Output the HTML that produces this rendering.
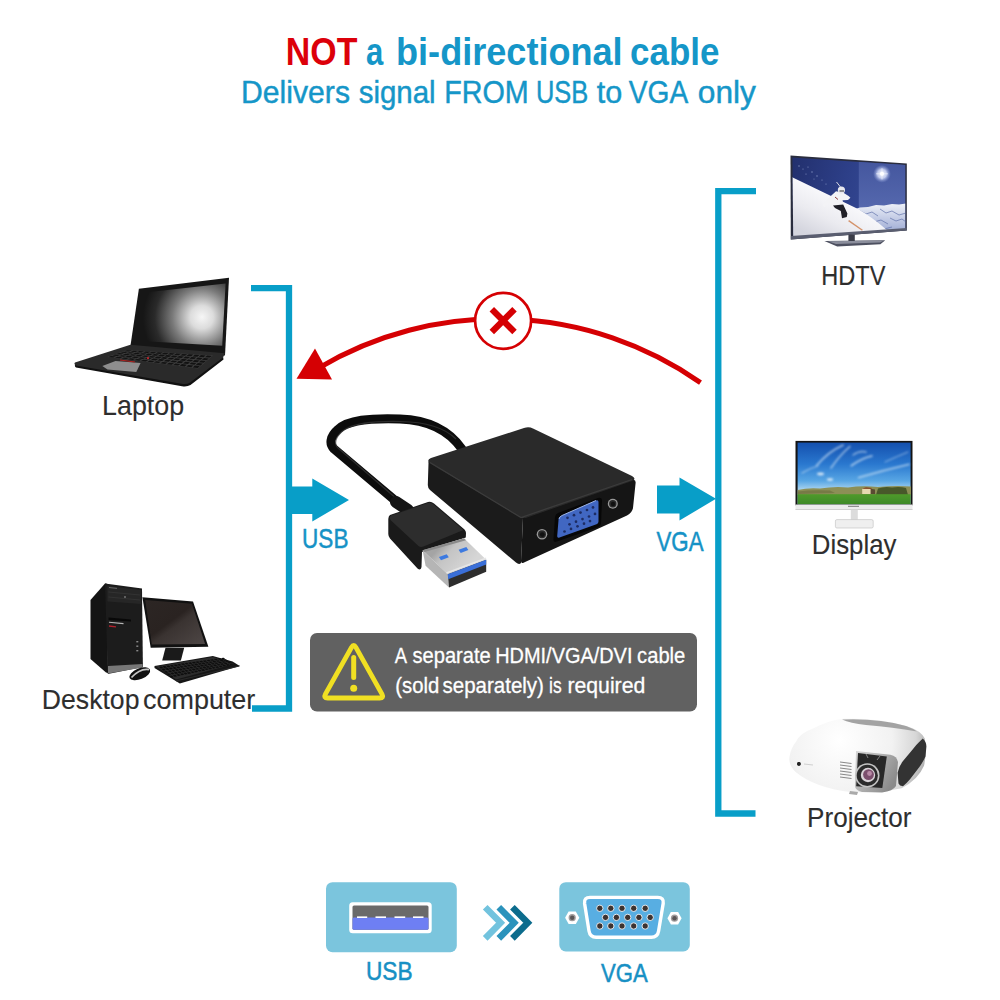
<!DOCTYPE html>
<html><head><meta charset="utf-8">
<style>
html,body{margin:0;padding:0;background:#fff;}
body{width:1000px;height:1000px;overflow:hidden;}
svg{display:block;}
text{font-family:"Liberation Sans",sans-serif;}
</style></head>
<body>
<svg width="1000" height="1000" viewBox="0 0 1000 1000">
<defs>
<filter id="soft" x="-20%" y="-50%" width="140%" height="200%"><feGaussianBlur stdDeviation="1"/></filter>
<radialGradient id="lapscr" gradientUnits="userSpaceOnUse" cx="201" cy="318" r="58" fx="202" fy="317">
<stop offset="0" stop-color="#f6f6f6"/><stop offset="0.2" stop-color="#dcdcdc"/><stop offset="0.5" stop-color="#7a7a7a"/><stop offset="0.8" stop-color="#2a2a2a"/><stop offset="1" stop-color="#161616"/>
</radialGradient>
<linearGradient id="dskscr" x1="0" y1="0" x2="1" y2="1">
<stop offset="0" stop-color="#2c2624"/><stop offset="0.45" stop-color="#2a2321"/><stop offset="0.55" stop-color="#3a3331"/><stop offset="1" stop-color="#4e4746"/>
</linearGradient>
<linearGradient id="tvsky" x1="0" y1="0" x2="1" y2="0.2">
<stop offset="0" stop-color="#222f6c"/><stop offset="0.5" stop-color="#2d3f88"/><stop offset="1" stop-color="#3a4f9c"/>
</linearGradient>
<linearGradient id="tvsky2" x1="0" y1="0" x2="0" y2="1">
<stop offset="0" stop-color="#42549c"/><stop offset="0.6" stop-color="#5467ad"/><stop offset="1" stop-color="#8090c6"/>
</linearGradient>
<linearGradient id="usbmetal" gradientUnits="userSpaceOnUse" x1="443" y1="544" x2="467" y2="567">
<stop offset="0" stop-color="#a4a4a4"/><stop offset="0.3" stop-color="#c4c4c4"/><stop offset="1" stop-color="#d6d6d6"/>
</linearGradient>
<linearGradient id="tvmtn" x1="0" y1="0" x2="0" y2="1">
<stop offset="0" stop-color="#eef1f8"/><stop offset="0.5" stop-color="#c5cde6"/><stop offset="1" stop-color="#9eabd3"/>
</linearGradient>
<linearGradient id="tvsnow" gradientUnits="userSpaceOnUse" x1="840" y1="200" x2="820" y2="240">
<stop offset="0" stop-color="#f8f8fb"/><stop offset="0.5" stop-color="#ebebf0"/><stop offset="1" stop-color="#d4d5de"/>
</linearGradient>
<radialGradient id="sun" cx="0.5" cy="0.5" r="0.5">
<stop offset="0" stop-color="#fff"/><stop offset="0.5" stop-color="#dfe6ff" stop-opacity="0.8"/><stop offset="1" stop-color="#8ea0dc" stop-opacity="0"/>
</radialGradient>
<linearGradient id="dspsky" x1="0" y1="0" x2="0" y2="1">
<stop offset="0" stop-color="#1450ae"/><stop offset="0.35" stop-color="#2a78cf"/><stop offset="0.62" stop-color="#58a6e4"/><stop offset="0.76" stop-color="#a6d2f0"/>
</linearGradient>
<linearGradient id="dspgrass" x1="0" y1="0" x2="0" y2="1">
<stop offset="0" stop-color="#4f9a2a"/><stop offset="0.5" stop-color="#46922a"/><stop offset="1" stop-color="#3d8a26"/>
</linearGradient>
<linearGradient id="projsilver" x1="0" y1="0" x2="1" y2="0.6">
<stop offset="0" stop-color="#d8d8d8"/><stop offset="0.6" stop-color="#a8a8a8"/><stop offset="1" stop-color="#8a8a8a"/>
</linearGradient>
<radialGradient id="projbody" gradientUnits="userSpaceOnUse" cx="840" cy="740" r="95">
<stop offset="0" stop-color="#ffffff"/><stop offset="0.55" stop-color="#f2f2f2"/><stop offset="0.8" stop-color="#d7d7d7"/><stop offset="1" stop-color="#9a9a9a"/>
</radialGradient>
</defs>
<rect width="1000" height="1000" fill="#fff"/>

<!-- BRACKETS -->
<path d="M251 288.2 H289 V708.5 H252" fill="none" stroke="#089ec8" stroke-width="6.3"/>
<path d="M756 191.2 H718.3 V813.5 H755.5" fill="none" stroke="#089ec8" stroke-width="6.3"/>

<!-- blue arrows -->
<path d="M289 486.5 H312.3 V478.5 L349 500 L312.3 521.5 V514 H289Z" fill="#089ec8"/>
<path d="M657 485.5 H679.5 V477.5 L716 498.8 L679.5 520.5 V513.5 H657Z" fill="#089ec8"/>

<!-- red arc -->
<g id="redarc">
<path d="M700.5 382.6 A352.7 352.7 0 0 0 318 368.3" fill="none" stroke="#d50003" stroke-width="5"/>
<path d="M315 348.5 L332 379.5 L296.5 378.8Z" fill="#d50003"/>
<circle cx="503.1" cy="320.8" r="28" fill="#fff" stroke="#d50003" stroke-width="2.7"/>
<path d="M491.8 309.3 L514.5 332 M514.5 309.3 L491.8 332" stroke="#d50003" stroke-width="6.3"/>
</g>

<!-- ADAPTER -->
<g id="adapter">
<!-- cable -->
<path d="M462 449 C450 432, 430 420, 400 419 C370 418, 348 420, 338 429.5 C330 436.5, 329 444, 334 449 L404 508" fill="none" stroke="#0c0c0c" stroke-width="9" stroke-linecap="round"/>
<path d="M456 439 C446 429, 428 422, 400 421.5 C372 421, 352 423, 342 431.5 C335 438, 334 444, 338 448 L398 500" fill="none" stroke="#3a3a3a" stroke-width="1.2" opacity="0.7"/>
<!-- strain relief -->
<path d="M396 502 L408 510" stroke="#141414" stroke-width="12" stroke-linecap="round"/>
<!-- box: left face -->
<path d="M428.5 463 Q428 460.5 431 461.5 L523 518 L521 563 Q519 565 516 562.5 L430 490 Q427.8 488 427.8 485Z" fill="#1b1b1b"/>
<!-- box: front face -->
<path d="M523 518 L632 480 Q636 479 635.6 483 L633 508 Q632 513 627 515.5 L524 562.5 Q521 564 521 561Z" fill="#151515"/>
<!-- box: top face -->
<path d="M431 458 L524 428 Q529 426.5 533 428.5 L632 476 Q637 479 632 481 L527 517.5 Q523 519 519 516.5 L430 463.5 Q426 460 431 458Z" fill="#2a2a2a"/>
<path d="M430 462.5 L521 517.5 L632 479.5" fill="none" stroke="#3c3c3c" stroke-width="1.3"/>
<!-- VGA port -->
<path d="M558 513 L598 498 Q602 497 602 501 L601 523 Q601 526 597 527.5 L557 541.5 Q553 543 553.5 539 L555 517 Q555.5 514 558 513Z" fill="#070707"/>
<path d="M562 515.5 L596 500.5 Q598.5 499.8 598.5 502 L598.5 521.5 Q598.5 523.5 596.5 524.3 L559.5 537.6 Q557 538.4 557.2 536 L558.6 519 Q559 516.8 562 515.5Z" fill="#4167c2"/>
<path d="M559 519 Q559.3 516.8 562 515.5 L596 500.5" fill="none" stroke="#9fb6e6" stroke-width="1"/>
<g fill="#1d2c63">
<circle cx="567.5" cy="517.8" r="1.35"/><circle cx="574" cy="515.2" r="1.35"/><circle cx="580.5" cy="512.6" r="1.35"/><circle cx="587" cy="510" r="1.35"/><circle cx="593" cy="507.4" r="1.35"/>
<circle cx="569.5" cy="524.3" r="1.35"/><circle cx="576" cy="521.7" r="1.35"/><circle cx="582.5" cy="519.1" r="1.35"/><circle cx="589" cy="516.5" r="1.35"/><circle cx="595" cy="513.9" r="1.35"/>
<circle cx="564.5" cy="531.5" r="1.35"/><circle cx="571" cy="528.9" r="1.35"/><circle cx="577.5" cy="526.3" r="1.35"/><circle cx="584" cy="523.7" r="1.35"/><circle cx="590" cy="521.1" r="1.35"/>
</g>
<!-- screws -->
<circle cx="542" cy="534.3" r="5.3" fill="#9a9a9a"/><circle cx="542" cy="534.3" r="4" fill="#2a2a2a"/><circle cx="542.3" cy="534.6" r="2.4" fill="#111"/>
<circle cx="612.8" cy="503.8" r="5" fill="#9a9a9a"/><circle cx="612.8" cy="503.8" r="3.7" fill="#2a2a2a"/><circle cx="613" cy="504" r="2.2" fill="#111"/>
<!-- USB plug housing -->
<path d="M390 515 L428 502 Q431 501 434 503.5 L464.5 529.5 Q466 531 466 533 L465.8 537.5 L422 552 L421.5 567 Q421 571 417.5 568.5 L390 538.5 Q388.3 536.5 388.3 534 L388.3 519 Q388.5 516 390 515Z" fill="#1a1a1a"/>
<path d="M391 515.5 L428 503 Q431 502 433.5 504.5 L463.5 530 L423.5 546.5 Q420.5 547.7 418.5 546 L390.5 520 Q389 517 391 515.5Z" fill="#2d2d2d"/>
<!-- USB metal -->
<path d="M422.6 550.2 L464 538.2 L486.2 559.8 L447.8 574.2Z" fill="url(#usbmetal)"/>
<path d="M422.6 550.2 L464 538.2 L466 540.2 L424.4 552Z" fill="#8a8a8a"/>
<path d="M422.6 550.2 L447.8 574.2 L449 587.4 L425.6 565.8Z" fill="#b5b5b5"/>
<path d="M447.8 574.2 L486.2 559.8 L486.2 571.8 L449 587.4Z" fill="#2d2d2d"/>
<path d="M447.8 574.2 L486.2 559.8 L486.2 564.6 L448.2 579.2Z" fill="#3a6fd8"/>
<path d="M446.5 573 L486 558.2" stroke="#e6e6e6" stroke-width="1.6"/>
<path d="M438.9 557 L446.7 554.2 L448.8 557.3 L441 560.2Z" fill="#3d7ae0"/>
<path d="M458.6 549.8 L466.3 547 L468.4 550.1 L460.7 553Z" fill="#3d7ae0"/>
</g>

<!-- LAPTOP -->
<g id="laptop">
<path d="M138.9 288.7 L229 277.7 L225 355.5 L130.2 347.5Z" fill="#161616"/>
<path d="M140.6 293 L225.6 283.6 L222.2 345.7 L132.9 340.6Z" fill="url(#lapscr)"/>
<path d="M75.5 364 L183 383 Q187 383.5 190 381.5 L223 356.5 L223.5 359.5 L190.5 385 Q187 387 182 386.2 L76 367.5 Q74 366 75.5 364Z" fill="#111"/>
<path d="M75 362.5 L130.4 344.8 L225 353.3 L223 357.5 L190 382.5 Q187 384.5 183 384 L76 365.5 Q73.5 364.2 75 362.5Z" fill="#2a2a2a"/>
<path d="M127 350 L213.0 355.5 L198.0 368.5 L107 357Z" fill="#3c3c3c"/>
<path d="M127.1 350.3 L131.8 350.6 L129.1 351.6 L124.4 351.2Z M133.3 350.7 L137.9 351.0 L135.3 352.1 L130.6 351.7Z M139.4 351.1 L144.1 351.4 L141.5 352.5 L136.8 352.2Z M145.6 351.5 L150.3 351.8 L147.7 353.0 L143.0 352.6Z M151.7 351.9 L156.4 352.2 L153.9 353.5 L149.2 353.1Z M157.9 352.3 L162.6 352.6 L160.1 353.9 L155.4 353.6Z M164.0 352.7 L168.7 353.0 L166.3 354.4 L161.6 354.0Z M170.2 353.1 L174.9 353.4 L172.5 354.8 L167.8 354.5Z M176.3 353.5 L181.0 353.8 L178.7 355.3 L174.0 355.0Z M182.5 353.9 L187.2 354.2 L184.9 355.8 L180.2 355.4Z M188.7 354.3 L193.3 354.6 L191.1 356.2 L186.4 355.9Z M194.8 354.7 L199.5 355.0 L197.3 356.7 L192.6 356.4Z M201.0 355.1 L205.6 355.5 L203.5 357.2 L198.8 356.8Z M207.1 355.5 L211.8 355.9 L209.7 357.6 L205.0 357.3Z M123.1 351.7 L127.9 352.1 L125.1 353.1 L120.4 352.6Z M129.3 352.2 L134.1 352.5 L131.4 353.6 L126.7 353.2Z M135.6 352.7 L140.3 353.0 L137.7 354.2 L132.9 353.7Z M141.8 353.2 L146.5 353.5 L144.0 354.7 L139.2 354.3Z M148.0 353.6 L152.8 354.0 L150.2 355.3 L145.5 354.9Z M154.3 354.1 L159.0 354.5 L156.5 355.8 L151.7 355.4Z M160.5 354.6 L165.2 355.0 L162.8 356.4 L158.0 356.0Z M166.7 355.1 L171.4 355.5 L169.1 356.9 L164.3 356.5Z M172.9 355.6 L177.7 356.0 L175.3 357.5 L170.6 357.1Z M179.2 356.1 L183.9 356.5 L181.6 358.0 L176.8 357.6Z M185.4 356.6 L190.1 357.0 L187.9 358.6 L183.1 358.2Z M191.6 357.1 L196.3 357.5 L194.2 359.1 L189.4 358.7Z M197.8 357.6 L202.6 358.0 L200.4 359.7 L195.7 359.3Z M204.1 358.1 L208.8 358.4 L206.7 360.2 L201.9 359.8Z M119.1 353.1 L123.9 353.5 L121.2 354.5 L116.4 354.1Z M125.4 353.7 L130.2 354.1 L127.6 355.2 L122.7 354.7Z M131.7 354.2 L136.5 354.7 L133.9 355.8 L129.1 355.3Z M138.0 354.8 L142.8 355.3 L140.2 356.5 L135.4 356.0Z M144.3 355.4 L149.1 355.8 L146.6 357.1 L141.8 356.6Z M150.6 356.0 L155.4 356.4 L152.9 357.7 L148.1 357.2Z M156.9 356.6 L161.7 357.0 L159.3 358.4 L154.5 357.9Z M163.2 357.1 L168.0 357.6 L165.6 359.0 L160.8 358.5Z M169.5 357.7 L174.3 358.1 L172.0 359.6 L167.2 359.2Z M175.8 358.3 L180.6 358.7 L178.3 360.3 L173.5 359.8Z M182.1 358.9 L186.9 359.3 L184.7 360.9 L179.8 360.4Z M188.4 359.4 L193.2 359.9 L191.0 361.5 L186.2 361.1Z M194.7 360.0 L199.5 360.5 L197.4 362.2 L192.5 361.7Z M201.0 360.6 L205.8 361.0 L203.7 362.8 L198.9 362.3Z M115.1 354.5 L120.0 355.0 L117.3 356.0 L112.4 355.5Z M121.5 355.2 L126.3 355.7 L123.7 356.7 L118.8 356.2Z M127.9 355.8 L132.7 356.3 L130.1 357.5 L125.2 356.9Z M134.2 356.5 L139.1 357.0 L136.5 358.2 L131.6 357.6Z M140.6 357.2 L145.5 357.7 L142.9 358.9 L138.1 358.4Z M147.0 357.8 L151.8 358.3 L149.4 359.6 L144.5 359.1Z M153.3 358.5 L158.2 359.0 L155.8 360.4 L150.9 359.8Z M159.7 359.1 L164.6 359.6 L162.2 361.1 L157.3 360.5Z M166.1 359.8 L170.9 360.3 L168.6 361.8 L163.7 361.2Z M172.5 360.5 L177.3 361.0 L175.0 362.5 L170.2 362.0Z M178.8 361.1 L183.7 361.6 L181.4 363.2 L176.6 362.7Z M185.2 361.8 L190.0 362.3 L187.9 364.0 L183.0 363.4Z M191.6 362.5 L196.4 363.0 L194.3 364.7 L189.4 364.1Z M197.9 363.1 L202.8 363.6 L200.7 365.4 L195.8 364.9Z M111.1 355.9 L116.0 356.5 L113.3 357.5 L108.4 356.9Z M117.6 356.7 L122.5 357.2 L119.8 358.3 L114.9 357.7Z M124.0 357.4 L128.9 358.0 L126.3 359.1 L121.4 358.5Z M130.5 358.2 L135.4 358.7 L132.8 359.9 L127.9 359.3Z M136.9 358.9 L141.8 359.5 L139.3 360.7 L134.4 360.1Z M143.3 359.7 L148.2 360.2 L145.8 361.5 L140.8 360.9Z M149.8 360.4 L154.7 361.0 L152.3 362.3 L147.3 361.7Z M156.2 361.2 L161.1 361.7 L158.8 363.1 L153.8 362.5Z M162.7 361.9 L167.6 362.5 L165.2 364.0 L160.3 363.3Z M169.1 362.7 L174.0 363.2 L171.7 364.8 L166.8 364.2Z M175.5 363.4 L180.4 364.0 L178.2 365.6 L173.3 365.0Z M182.0 364.1 L186.9 364.7 L184.7 366.4 L179.8 365.8Z M188.4 364.9 L193.3 365.5 L191.2 367.2 L186.3 366.6Z M194.9 365.6 L199.8 366.2 L197.7 368.0 L192.8 367.4Z" fill="#121212"/>
<path d="M102.3 366 L115.5 361 L140.6 363 L136.3 372 L107.5 369.5Z" fill="#8e8e8e"/>
<path d="M120 360 L135 362" stroke="#b0221f" stroke-width="1.2"/>
<circle cx="148" cy="358.2" r="1.1" fill="#c0272d"/>
</g>

<!-- DESKTOP -->
<g id="desktop">
<path d="M90.5 600 L105 583.5 L107 583.7 L108 673 L106 672.6 L90.5 659Z" fill="#141414"/>
<path d="M105 583.5 L142 588.5 L142.9 667 L107.8 674Z" fill="#1c1c1c"/>
<path d="M107.5 586 L141 590 L141 604 L107.5 601.5Z" fill="#262626"/>
<g stroke="#3a3a3a" stroke-width="0.6"><path d="M108.5 592 L140 595"/><path d="M108.5 597 L140 600"/></g>
<path d="M109 587.5 L117 588.4" stroke="#777" stroke-width="0.8"/>
<circle cx="125" cy="597" r="0.8" fill="#aaa"/>
<path d="M108.5 617.5 L131 619.5 L131 621.5 L108.5 620Z" fill="#080808"/>
<path d="M109 622.3 L123.5 623.6" stroke="#b5b5b5" stroke-width="1.1"/>
<path d="M109 626 L116 626.8" stroke="#b0202c" stroke-width="1.3"/>
<g fill="#8a8a8a"><rect x="136.3" y="641" width="2" height="1.4"/><rect x="136.3" y="645.5" width="2" height="1.4"/><rect x="136.3" y="650" width="2" height="1.4"/></g>
<path d="M108 666 L142.5 664 L142.6 667.5 L108 673.5Z" fill="#777"/>
<path d="M142.4 597.2 L193 601.6 L208.4 646.7 L150.7 647.8Z" fill="#111"/>
<path d="M145.2 600 L191.9 603.8 L205.1 643.9 L151.8 644.5Z" fill="url(#dskscr)"/>
<path d="M165.5 647.8 L184.2 647.8 L180.9 660.4 L162.2 660.4Z" fill="#1a1a1a"/>
<path d="M154.5 665.9 L212.8 656 L232.6 661.5 L239.8 665.9 L179.8 683.5 L154.5 668.1Z" fill="#161616"/>
<path d="M156 666.5 L213 657 L234 664 L176 679.5Z" fill="#2c2c2c"/>
<path d="M158.9 666.8 L161.5 666.4 L163.4 668.0 L160.7 668.4Z M162.5 666.2 L165.2 665.9 L167.0 667.5 L164.4 667.9Z M166.2 665.7 L168.8 665.4 L170.6 666.9 L168.0 667.3Z M169.9 665.2 L172.5 664.9 L174.3 666.4 L171.7 666.8Z M173.5 664.7 L176.2 664.4 L177.9 665.8 L175.3 666.2Z M177.2 664.2 L179.8 663.9 L181.6 665.3 L178.9 665.7Z M180.8 663.7 L183.5 663.3 L185.2 664.8 L182.6 665.1Z M184.5 663.2 L187.1 662.8 L188.8 664.2 L186.2 664.6Z M188.2 662.7 L190.8 662.3 L192.5 663.7 L189.8 664.1Z M191.8 662.2 L194.5 661.8 L196.1 663.1 L193.5 663.5Z M195.5 661.7 L198.1 661.3 L199.7 662.6 L197.1 663.0Z M199.2 661.2 L201.8 660.8 L203.4 662.0 L200.8 662.4Z M202.8 660.7 L205.5 660.3 L207.0 661.5 L204.4 661.9Z M206.5 660.2 L209.1 659.8 L210.7 661.0 L208.0 661.3Z M210.1 659.7 L212.8 659.3 L214.3 660.4 L211.7 660.8Z M213.8 659.1 L216.4 658.8 L217.9 659.9 L215.3 660.3Z M217.5 658.6 L220.1 658.3 L221.6 659.3 L219.0 659.7Z M221.1 658.1 L223.8 657.8 L225.2 658.8 L222.6 659.2Z M161.5 669.0 L164.1 668.6 L165.9 670.3 L163.3 670.7Z M165.1 668.5 L167.7 668.1 L169.5 669.7 L166.9 670.1Z M168.7 667.9 L171.3 667.5 L173.1 669.1 L170.5 669.5Z M172.4 667.4 L175.0 667.0 L176.8 668.5 L174.2 668.9Z M176.0 666.8 L178.6 666.4 L180.4 667.9 L177.8 668.3Z M179.6 666.3 L182.2 665.9 L184.0 667.3 L181.4 667.7Z M183.2 665.7 L185.9 665.3 L187.6 666.7 L185.0 667.1Z M186.9 665.1 L189.5 664.7 L191.2 666.1 L188.6 666.5Z M190.5 664.6 L193.1 664.2 L194.8 665.5 L192.2 666.0Z M194.1 664.0 L196.7 663.6 L198.4 664.9 L195.8 665.4Z M197.8 663.5 L200.4 663.1 L202.0 664.3 L199.4 664.8Z M201.4 662.9 L204.0 662.5 L205.6 663.7 L203.0 664.2Z M205.0 662.4 L207.6 662.0 L209.2 663.2 L206.6 663.6Z M208.6 661.8 L211.3 661.4 L212.8 662.6 L210.2 663.0Z M212.3 661.2 L214.9 660.8 L216.4 662.0 L213.8 662.4Z M215.9 660.7 L218.5 660.3 L220.0 661.4 L217.4 661.8Z M219.5 660.1 L222.1 659.7 L223.6 660.8 L221.0 661.2Z M223.2 659.6 L225.8 659.2 L227.2 660.2 L224.6 660.6Z M164.1 671.3 L166.7 670.9 L168.5 672.5 L165.9 673.0Z M167.7 670.7 L170.3 670.3 L172.1 671.9 L169.5 672.3Z M171.3 670.1 L173.8 669.7 L175.7 671.2 L173.1 671.7Z M174.9 669.5 L177.4 669.1 L179.2 670.6 L176.6 671.1Z M178.4 668.9 L181.0 668.5 L182.8 670.0 L180.2 670.4Z M182.0 668.3 L184.6 667.9 L186.4 669.3 L183.8 669.8Z M185.6 667.7 L188.2 667.3 L189.9 668.7 L187.4 669.1Z M189.2 667.1 L191.8 666.7 L193.5 668.0 L190.9 668.5Z M192.8 666.5 L195.4 666.0 L197.1 667.4 L194.5 667.8Z M196.4 665.9 L199.0 665.4 L200.6 666.7 L198.1 667.2Z M200.0 665.3 L202.6 664.8 L204.2 666.1 L201.6 666.6Z M203.6 664.7 L206.2 664.2 L207.8 665.5 L205.2 665.9Z M207.2 664.1 L209.8 663.6 L211.4 664.8 L208.8 665.3Z M210.8 663.4 L213.4 663.0 L214.9 664.2 L212.4 664.6Z M214.4 662.8 L217.0 662.4 L218.5 663.5 L215.9 664.0Z M218.0 662.2 L220.6 661.8 L222.1 662.9 L219.5 663.3Z M221.6 661.6 L224.2 661.2 L225.6 662.2 L223.1 662.7Z M225.2 661.0 L227.8 660.6 L229.2 661.6 L226.6 662.1Z M166.7 673.6 L169.2 673.2 L171.1 674.8 L168.5 675.3Z M170.2 673.0 L172.8 672.5 L174.6 674.1 L172.1 674.6Z M173.8 672.3 L176.4 671.8 L178.2 673.4 L175.6 673.9Z M177.3 671.7 L179.9 671.2 L181.7 672.7 L179.1 673.2Z M180.9 671.0 L183.5 670.5 L185.2 672.0 L182.7 672.5Z M184.5 670.3 L187.0 669.9 L188.8 671.3 L186.2 671.8Z M188.0 669.7 L190.6 669.2 L192.3 670.6 L189.8 671.1Z M191.6 669.0 L194.2 668.6 L195.8 669.9 L193.3 670.4Z M195.2 668.4 L197.7 667.9 L199.4 669.2 L196.8 669.7Z M198.7 667.7 L201.3 667.2 L202.9 668.5 L200.4 669.0Z M202.3 667.1 L204.8 666.6 L206.5 667.9 L203.9 668.4Z M205.8 666.4 L208.4 665.9 L210.0 667.2 L207.4 667.7Z M209.4 665.7 L212.0 665.3 L213.5 666.5 L211.0 667.0Z M213.0 665.1 L215.5 664.6 L217.1 665.8 L214.5 666.3Z M216.5 664.4 L219.1 664.0 L220.6 665.1 L218.1 665.6Z M220.1 663.8 L222.7 663.3 L224.1 664.4 L221.6 664.9Z M223.7 663.1 L226.2 662.6 L227.7 663.7 L225.1 664.2Z M227.2 662.5 L229.8 662.0 L231.2 663.0 L228.7 663.5Z M169.3 675.9 L171.8 675.4 L173.7 677.0 L171.1 677.6Z M172.8 675.2 L175.3 674.7 L177.2 676.3 L174.6 676.8Z M176.3 674.5 L178.9 674.0 L180.7 675.6 L178.1 676.1Z M179.8 673.8 L182.4 673.3 L184.2 674.8 L181.6 675.3Z M183.4 673.1 L185.9 672.6 L187.7 674.1 L185.1 674.6Z M186.9 672.4 L189.4 671.9 L191.2 673.3 L188.6 673.9Z M190.4 671.7 L193.0 671.2 L194.7 672.6 L192.2 673.1Z M194.0 671.0 L196.5 670.5 L198.2 671.8 L195.7 672.4Z M197.5 670.3 L200.0 669.8 L201.7 671.1 L199.2 671.6Z M201.0 669.6 L203.6 669.1 L205.2 670.4 L202.7 670.9Z M204.5 668.9 L207.1 668.3 L208.7 669.6 L206.2 670.1Z M208.1 668.1 L210.6 667.6 L212.2 668.9 L209.7 669.4Z M211.6 667.4 L214.1 666.9 L215.7 668.1 L213.2 668.7Z M215.1 666.7 L217.7 666.2 L219.2 667.4 L216.7 667.9Z M218.7 666.0 L221.2 665.5 L222.7 666.6 L220.2 667.2Z M222.2 665.3 L224.7 664.8 L226.2 665.9 L223.7 666.4Z M225.7 664.6 L228.3 664.1 L229.7 665.2 L227.2 665.7Z M229.2 663.9 L231.8 663.4 L233.2 664.4 L230.7 664.9Z" fill="#0d0d0d"/>
<path d="M176 681 L239.5 666" stroke="#2a2a2a" stroke-width="1"/>
<ellipse cx="139.8" cy="673.8" rx="11" ry="5.4" transform="rotate(-22 139.8 673.8)" fill="#111"/>
<path d="M131.5 677.5 Q140 668 149 669.5" stroke="#c4c4c4" stroke-width="1.8" fill="none"/>
</g>

<!-- HDTV -->
<g id="hdtv">
<clipPath id="tvclip"><path d="M792.4 157.5 L905.2 165 L905.2 229 L793.2 237Z"/></clipPath>
<path d="M790.5 155.4 L906.8 163.4 L906.8 230.6 L790.8 239.4Z" fill="#2a2d3e"/>
<g clip-path="url(#tvclip)">
<rect x="790" y="155" width="120" height="85" fill="url(#tvsky)"/>
<rect x="858.8" y="155" width="50" height="85" fill="url(#tvsky2)"/>
<circle cx="882" cy="173.8" r="9" fill="url(#sun)"/>
<path d="M876 173.8 H888 M882 168 V179.5" stroke="#fff" stroke-width="0.6" opacity="0.8"/>
<circle cx="882" cy="173.8" r="2" fill="#fff"/>
<path d="M852 210 L860 207.5 L868 207 L876 205 L884 205.5 L892 204 L899 204.5 L906 203.5 L906 232 L852 232Z" fill="url(#tvmtn)"/>
<g stroke="#5e6fa8" stroke-width="0.9" fill="none" opacity="0.75">
<path d="M860 211 L866 214 L872 212 L878 216"/><path d="M880 209 L886 213 L892 211 L899 215 L906 213"/>
<path d="M868 219 L874 222 L881 220 L888 224"/><path d="M890 218 L896 221 L902 219 L906 222"/>
<path d="M878 227 L884 229 L892 227"/>
</g>
<path d="M790 176 L792.2 177.2 L857 208.6 Q872 217 888 231 L888 240 L790 240Z" fill="url(#tvsnow)"/>
<g fill="#aab6e0" opacity="0.7"><circle cx="799" cy="166" r="0.7"/><circle cx="803" cy="169" r="0.6"/><circle cx="808" cy="167" r="0.6"/><circle cx="812" cy="172" r="0.7"/><circle cx="806" cy="174" r="0.6"/><circle cx="817" cy="176" r="0.7"/><circle cx="822" cy="180" r="0.6"/><circle cx="814" cy="179" r="0.5"/><circle cx="826" cy="184" r="0.6"/></g>
<path d="M848.6 220.6 L862.4 230.2" stroke="#d4926a" stroke-width="1.4"/>
<path d="M836 191.2 L843.8 193 L848.6 196 L850.4 197.8 L848 200 L842.6 200.2 L843.2 205 L833 205.4 L827 203.8 L824.6 207.4 L823 205 L826.5 200 Z" fill="#f3f3f6"/>
<path d="M833 205.6 L843.2 204.4 L847.4 213.4 L846.8 217 L842 218.2 L840.8 211 L835 208 Z" fill="#202028"/>
<circle cx="841.4" cy="190" r="3.6" fill="#e8e8ee"/>
<path d="M839.5 191 h4.5" stroke="#333" stroke-width="1.1"/>
<path d="M836.5 182 L840.5 187" stroke="#d8d8e0" stroke-width="1"/>
<path d="M835 197 L838 199.5" stroke="#8a3a3a" stroke-width="1"/>
</g>
<path d="M790.8 236 L906.8 228 L906.8 230.6 L790.8 239.4Z" fill="#5a5e70"/>
<path d="M824.4 241 L885.2 240.2 L880.4 244.2 L837.2 246.6Z" fill="#4d5060"/>
<path d="M828 241.3 L884 240.5 L880 242.5 L836 244Z" fill="#8b8e9c"/>
<path d="M848.4 234.6 L854.8 234.6 L854.8 241 L848.4 241Z" fill="#3a3c48"/>
</g>

<!-- DISPLAY -->
<g id="display">
<rect x="795.5" y="440.9" width="117" height="64.5" fill="#141414"/>
<rect x="797.6" y="442.6" width="113" height="61.6" fill="url(#dspsky)"/>
<g fill="none" stroke="#dcebf8" stroke-linecap="round" filter="url(#soft)" opacity="0.6">
<path d="M816.6 465.6 Q828 452 843 445.2" stroke-width="2"/>
<path d="M831 468 Q840 455 850 446.4" stroke-width="1.6"/>
<path d="M851.4 465.6 Q862 458 871.8 456" stroke-width="2"/>
<path d="M853 455 Q860 450 866 452" stroke-width="1.4"/>
<path d="M858.6 477.6 Q885 470 909 464.4" stroke-width="1.8"/>
<path d="M885 462 Q898 456 908 452" stroke-width="1"/>
<path d="M802 473 Q810 468 818 466" stroke-width="1.2"/>
</g>
<g fill="#f4f8fc" filter="url(#soft)" opacity="0.8">
<ellipse cx="820.5" cy="474" rx="3.5" ry="1.4"/><ellipse cx="830" cy="479.6" rx="3.2" ry="1.3"/>
</g>
<path d="M797.6 490 Q808 487.5 820 488.5 Q835 486 848 487.5 Q862 485.5 878 487 Q895 485.5 911 486.5 L911 495 L797.6 495Z" fill="#8c8f56"/>
<path d="M797.6 491.5 Q812 489.5 830 490.5 L835 493 L797.6 494Z" fill="#6d7040" opacity="0.7"/>
<path d="M878 488.5 Q885 486 892 487.5 Q900 486.5 906 488 L908 495 L876 495Z" fill="#3c4f22" opacity="0.85"/>
<rect x="862.2" y="488.8" width="8.5" height="5.2" fill="#e6d9b0"/>
<path d="M870.7 488.8 L875 489.5 L875 494 L870.7 494Z" fill="#5a4a32"/>
<path d="M862 488.8 L866 487.3 L872 488 L871 489Z" fill="#8a4a2a"/>
<rect x="797.6" y="494.2" width="113" height="10" fill="url(#dspgrass)"/>
<rect x="795.5" y="504.5" width="117" height="5.3" fill="#ececec"/>
<rect x="795.5" y="509" width="117" height="0.8" fill="#c9c9c9"/>
<rect x="848" y="505.8" width="11" height="1" fill="#777"/>
<rect x="850.8" y="509.8" width="7" height="11" fill="#dcdcdc"/>
<rect x="835.4" y="519.6" width="37.8" height="8.4" rx="1.5" fill="#efefef" stroke="#bdbdbd" stroke-width="0.6"/>
</g>

<!-- PROJECTOR -->
<g id="projector">
<path d="M796 741.8 Q800 733 812 729 Q830 720 844 718.6 Q880 718 908 726.6 Q921 731 924.8 738.6 Q927 752 924 765.8 Q918 780 901.6 788.2 Q880 793 852 792.2 Q815 788 796 772.2 Q788 765 789.6 756.2 Q791 748 796 741.8Z" fill="url(#projbody)"/>
<path d="M842 719.5 Q878 718 906 726 Q913 728.5 917 731.5 Q893 727 866 725 Q850 723 842 719.5Z" fill="#a3a3a3"/>
<path d="M856 751 L890.4 754.7 Q897 756 898 762 L896 786 Q893 791 882 792.5 L862 792 Q855 790 855 786Z" fill="url(#projsilver)"/>
<path d="M922.8 738.5 Q926.5 742 926.4 746.6 L925.5 756.5 Q923 762 919.2 767.3 L910.2 779 Q906 784 903 786.2 Q899.5 786 898.5 783.5 L897.6 772.7 Q899 766 903 761 L912 750.2 Q916 745 919.2 742.1Z" fill="#333"/>
<path d="M858 752.9 L886.8 756.5 L882.3 788 L856.2 786.2Z" fill="#282828"/>
<path d="M866 754 L868 758 M880 756 L877 760" stroke="#999" stroke-width="0.8"/>
<circle cx="867.3" cy="775.4" r="12.2" fill="#c4c4c4"/>
<circle cx="867.3" cy="775.4" r="10.6" fill="#2b2b2b"/>
<circle cx="868" cy="775" r="7.2" fill="#d9d4d8"/>
<circle cx="868.5" cy="774.6" r="5.4" fill="#7b4f6d"/>
<circle cx="869.5" cy="773.5" r="2.4" fill="#b889a6"/>
<g stroke="#7a7a7a" stroke-width="0.9"><path d="M840 762 L851.5 763.5"/><path d="M840 765 L851.5 766.5"/><path d="M840 768 L851.5 769.5"/><path d="M840 771 L851.5 772.5"/><path d="M840 774 L851.5 775.5"/><path d="M840 777 L851.5 778.5"/></g>
<circle cx="798.9" cy="763.9" r="1.8" fill="#222"/>
<path d="M804 764 L813 765" stroke="#d0d0d0" stroke-width="1"/>
<path d="M850 791 L858 792 L857 795 L849 794Z" fill="#aaa"/>
</g>
<circle cx="798.9" cy="763.9" r="1.8" fill="#222"/>
</g>


<!-- warning box -->
<rect x="310" y="633" width="387" height="78.5" rx="7" fill="#616161"/>
<path d="M355.9 647.43 L382 694.07 Q384.2 698 379.7 698 L327.7 698 Q323.2 698 325.4 694.07 L351.5 647.43 Q353.7 643.5 355.9 647.43Z" fill="none" stroke="#f0e023" stroke-width="4.8" stroke-linejoin="round"/>
<line x1="353.7" y1="657.5" x2="353.7" y2="677.5" stroke="#f0e023" stroke-width="5" stroke-linecap="round"/>
<circle cx="353.7" cy="688.3" r="3.5" fill="#f0e023"/>

<!-- bottom icons -->
<g id="usbicon">
<rect x="326" y="882.2" width="130.8" height="70" rx="6.5" fill="#7bc5dd"/>
<rect x="349.2" y="902.3" width="82.5" height="31" rx="3.5" fill="#fff"/>
<rect x="352.5" y="905.5" width="76" height="24.3" rx="1.5" fill="#6a6a6a"/>
<rect x="352.5" y="917.6" width="76" height="12.2" rx="1.5" fill="#6e7ff3"/>
<g stroke="#fff" stroke-width="1.6">
<line x1="357" y1="917.2" x2="367.2" y2="917.2"/><line x1="375.5" y1="917.2" x2="386" y2="917.2"/>
<line x1="394.5" y1="917.2" x2="405.2" y2="917.2"/><line x1="413" y1="917.2" x2="423.5" y2="917.2"/>
</g>
</g>
<g id="chevrons" fill="none" stroke-width="6.5" stroke-linejoin="miter">
<path d="M485.2 907.2 L500.6 922.8 L485.2 938.4" stroke="#72c3de"/>
<path d="M498.8 907.2 L514.2 922.8 L498.8 938.4" stroke="#2b93bc"/>
<path d="M512.4 907.2 L527.8 922.8 L512.4 938.4" stroke="#0c6c8d"/>
</g>
<g id="vgaicon">
<rect x="559.3" y="882.2" width="130.5" height="69.3" rx="6.5" fill="#7bc5dd"/>
<path d="M590 897.4 H657.8 Q664 897.4 663.2 903.4 L658.6 931 Q657.6 937.2 651.4 937.2 H596.2 Q590 937.2 589 931 L584.6 903.4 Q583.8 897.4 590 897.4Z" fill="#58aee2" stroke="#fff" stroke-width="3.4"/>
<g fill="#3d3331" stroke="#f3f6fa" stroke-width="0.9">
<circle cx="599.8" cy="908.3" r="3.2"/><circle cx="610.8" cy="908.3" r="3.2"/><circle cx="622" cy="908.3" r="3.2"/><circle cx="633.7" cy="908.3" r="3.2"/><circle cx="645.2" cy="908.3" r="3.2"/>
<circle cx="605.5" cy="917.4" r="3.2"/><circle cx="616.4" cy="917.4" r="3.2"/><circle cx="627.7" cy="917.4" r="3.2"/><circle cx="638.9" cy="917.4" r="3.2"/><circle cx="650.2" cy="917.4" r="3.2"/>
<circle cx="599.8" cy="926" r="3.2"/><circle cx="610.8" cy="926" r="3.2"/><circle cx="622" cy="926" r="3.2"/><circle cx="633.7" cy="926" r="3.2"/><circle cx="645.2" cy="926" r="3.2"/>
</g>
<path d="M565.1 917.7 L568.6 911.5 H575.8 L579.3 917.7 L575.8 923.9 H568.6Z" fill="#fff"/>
<path d="M667.4 918.2 L670.9 912 H678.1 L681.6 918.2 L678.1 924.4 H670.9Z" fill="#fff"/>
<circle cx="572.2" cy="917.7" r="3.6" fill="#a09c9c"/><circle cx="572.2" cy="917.7" r="2.2" fill="#5a5656"/>
<circle cx="674.5" cy="918.2" r="3.6" fill="#a09c9c"/><circle cx="674.5" cy="918.2" r="2.2" fill="#5a5656"/>
</g>

<!-- TEXTSTART -->
<text x="285.83" y="65.2" font-size="39.5" font-weight="bold" fill="#dc000a" textLength="71.51" lengthAdjust="spacingAndGlyphs">NOT</text>
<text x="366.11" y="65.2" font-size="39.5" font-weight="bold" fill="#1596c8" textLength="17.26" lengthAdjust="spacingAndGlyphs">a</text>
<text x="396.06" y="65.2" font-size="39.5" font-weight="bold" fill="#1596c8" textLength="226.58" lengthAdjust="spacingAndGlyphs">bi-directional</text>
<text x="630.02" y="65.2" font-size="39.5" font-weight="bold" fill="#1596c8" textLength="89.38" lengthAdjust="spacingAndGlyphs">cable</text>
<text x="241.05" y="102.8" font-size="31.8" stroke="#1596c8" stroke-width="0.45" fill="#1596c8" textLength="108.96" lengthAdjust="spacingAndGlyphs">Delivers</text>
<text x="358.67" y="102.8" font-size="31.8" stroke="#1596c8" stroke-width="0.45" fill="#1596c8" textLength="76.97" lengthAdjust="spacingAndGlyphs">signal</text>
<text x="444.29" y="102.8" font-size="31.8" stroke="#1596c8" stroke-width="0.45" fill="#1596c8" textLength="84.46" lengthAdjust="spacingAndGlyphs">FROM</text>
<text x="536.0" y="102.8" font-size="31.8" stroke="#1596c8" stroke-width="0.45" fill="#1596c8" textLength="52.31" lengthAdjust="spacingAndGlyphs">USB</text>
<text x="596.8" y="102.8" font-size="31.8" stroke="#1596c8" stroke-width="0.45" fill="#1596c8" textLength="25.47" lengthAdjust="spacingAndGlyphs">to</text>
<text x="628.8" y="102.8" font-size="31.8" stroke="#1596c8" stroke-width="0.45" fill="#1596c8" textLength="59.34" lengthAdjust="spacingAndGlyphs">VGA</text>
<text x="697.8" y="102.8" font-size="31.8" stroke="#1596c8" stroke-width="0.45" fill="#1596c8" textLength="58.14" lengthAdjust="spacingAndGlyphs">only</text>
<text x="302.06" y="547.9" font-size="27.5" stroke="#1592c6" stroke-width="0.5" fill="#1592c6" textLength="46.41" lengthAdjust="spacingAndGlyphs">USB</text>
<text x="656.5" y="551" font-size="27.5" stroke="#1592c6" stroke-width="0.5" fill="#1592c6" textLength="47.06" lengthAdjust="spacingAndGlyphs">VGA</text>
<text x="102.02" y="414.8" font-size="27.2" stroke="#2e2e2e" stroke-width="0.12" fill="#2e2e2e" textLength="82.12" lengthAdjust="spacingAndGlyphs">Laptop</text>
<text x="41.84" y="708.6" font-size="27.2" stroke="#2e2e2e" stroke-width="0.12" fill="#2e2e2e" textLength="97.64" lengthAdjust="spacingAndGlyphs">Desktop</text>
<text x="143.01" y="708.6" font-size="27.2" stroke="#2e2e2e" stroke-width="0.12" fill="#2e2e2e" textLength="112.33" lengthAdjust="spacingAndGlyphs">computer</text>
<text x="811.85" y="553.8" font-size="27.2" stroke="#2e2e2e" stroke-width="0.12" fill="#2e2e2e" textLength="84.6" lengthAdjust="spacingAndGlyphs">Display</text>
<text x="807.08" y="826.8" font-size="27.2" stroke="#2e2e2e" stroke-width="0.12" fill="#2e2e2e" textLength="104.32" lengthAdjust="spacingAndGlyphs">Projector</text>
<text x="821.28" y="284.7" font-size="27.5" stroke="#2e2e2e" stroke-width="0.12" fill="#2e2e2e" textLength="64.21" lengthAdjust="spacingAndGlyphs">HDTV</text>
<text x="394.8" y="663" font-size="22.3" stroke="#fff" stroke-width="0.3" fill="#fff" textLength="12.3" lengthAdjust="spacingAndGlyphs">A</text>
<text x="412.5" y="663" font-size="22.3" stroke="#fff" stroke-width="0.3" fill="#fff" textLength="78.21" lengthAdjust="spacingAndGlyphs">separate</text>
<text x="495.21" y="663" font-size="22.3" stroke="#fff" stroke-width="0.3" fill="#fff" textLength="137.24" lengthAdjust="spacingAndGlyphs">HDMI/VGA/DVI</text>
<text x="637.1" y="663" font-size="22.3" stroke="#fff" stroke-width="0.3" fill="#fff" textLength="48.19" lengthAdjust="spacingAndGlyphs">cable</text>
<text x="395.29" y="693" font-size="22.3" stroke="#fff" stroke-width="0.3" fill="#fff" textLength="43.92" lengthAdjust="spacingAndGlyphs">(sold</text>
<text x="442.58" y="693" font-size="22.3" stroke="#fff" stroke-width="0.3" fill="#fff" textLength="101.32" lengthAdjust="spacingAndGlyphs">separately)</text>
<text x="549.02" y="693" font-size="22.3" stroke="#fff" stroke-width="0.3" fill="#fff" textLength="12.57" lengthAdjust="spacingAndGlyphs">is</text>
<text x="567.45" y="693" font-size="22.3" stroke="#fff" stroke-width="0.3" fill="#fff" textLength="77.82" lengthAdjust="spacingAndGlyphs">required</text>
<text x="365.9" y="980" font-size="25.2" stroke="#1790c4" stroke-width="0.5" fill="#1790c4" textLength="46.62" lengthAdjust="spacingAndGlyphs">USB</text>
<text x="601.0" y="981.5" font-size="26" stroke="#1790c4" stroke-width="0.5" fill="#1790c4" textLength="46.73" lengthAdjust="spacingAndGlyphs">VGA</text>
<!-- TEXTEND -->
</svg>
</body></html>
